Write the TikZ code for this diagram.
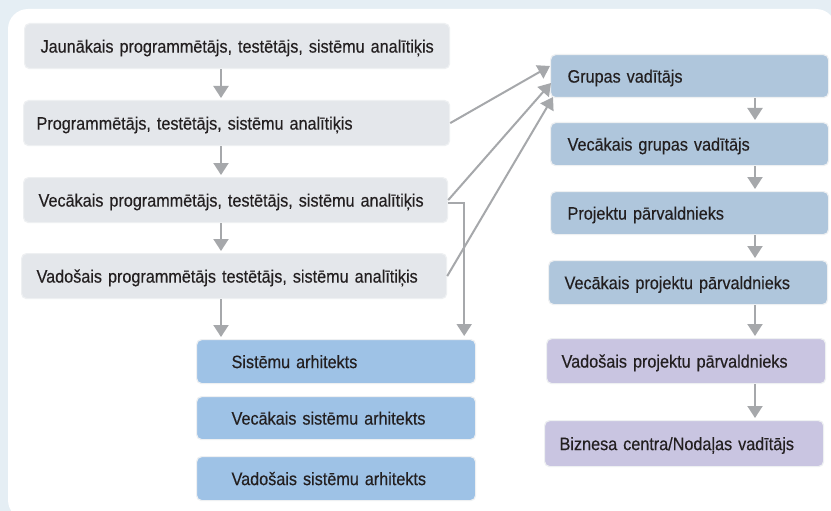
\documentclass[tikz,border=0pt]{standalone}
\usepackage{fontspec}
\setmainfont[FakeStretch=0.9,FakeBold=0.35]{Liberation Sans}
\usetikzlibrary{arrows.meta,calc}
\definecolor{bg}{HTML}{E5EEF4}
\definecolor{grayfill}{HTML}{E4E7EB}
\definecolor{blufill}{HTML}{9EC2E6}
\definecolor{steelfill}{HTML}{AFC6DC}
\definecolor{purfill}{HTML}{C9C5E1}
\definecolor{boxedge}{HTML}{EEF0F2}
\definecolor{arr}{HTML}{A6A8AB}
\definecolor{txt}{HTML}{231F20}
\tikzset{
  bx/.style={rounded corners=5pt, draw=boxedge, line width=1.2pt, anchor=north west,
    align=left, font=\fontsize{18}{20}\selectfont, text=txt, inner ysep=0pt,
    text height=13pt, text depth=0pt},
  gbox/.style={bx, fill=grayfill},
  bbox/.style={bx, fill=blufill},
  sbox/.style={bx, fill=steelfill},
  pbox/.style={bx, fill=purfill},
  conn/.style={draw=arr, line width=2pt, -{Triangle[length=12pt,width=15pt]}},
}
\begin{document}
\begin{tikzpicture}[x=1pt,y=-1pt]
\useasboundingbox (0,0) rectangle (831,511);
\fill[bg] (0,0) rectangle (831,511);
\begin{scope}
\clip (0,0) rectangle (831,511);
\fill[white, rounded corners=20pt] (8,9) rectangle (836,520);
\end{scope}
% left column
\node[gbox, minimum width=425pt, minimum height=45pt, text width=393pt, inner xsep=16pt] (j) at (24,23) {\mbox{Jaunākais programmētājs, testētājs, sistēmu analītiķis}};
\node[gbox, minimum width=426pt, minimum height=45pt, text width=400pt, inner xsep=13pt] (p) at (23,100) {\mbox{Programmētājs, testētājs, sistēmu analītiķis}};
\node[gbox, minimum width=424pt, minimum height=45pt, text width=394pt, inner xsep=15pt] (vp) at (23,177) {\mbox{Vecākais programmētājs, testētājs, sistēmu analītiķis}};
\node[gbox, minimum width=425pt, minimum height=45pt, text width=395pt, inner xsep=15pt] (vd) at (21,253) {\mbox{Vadošais programmētājs testētājs, sistēmu analītiķis}};
% architects
\node[bbox, minimum width=279pt, minimum height=44pt, text width=209pt, inner xsep=35pt] (sa) at (196,339) {Sistēmu arhitekts};
\node[bbox, minimum width=279pt, minimum height=43pt, text width=209pt, inner xsep=35pt] (vsa) at (196,396) {Vecākais sistēmu arhitekts};
\node[bbox, minimum width=279pt, minimum height=44pt, text width=209pt, inner xsep=35pt] (dsa) at (196,456) {Vadošais sistēmu arhitekts};
% right column
\node[sbox, minimum width=278pt, minimum height=43pt, text width=244pt, inner xsep=17pt] (gv) at (550,54) {Grupas vadītājs};
\node[sbox, minimum width=278pt, minimum height=43pt, text width=244pt, inner xsep=17pt] (vgv) at (550,122) {Vecākais grupas vadītājs};
\node[sbox, minimum width=278pt, minimum height=43pt, text width=244pt, inner xsep=17pt] (pp) at (550,191) {Projektu pārvaldnieks};
\node[sbox, minimum width=279pt, minimum height=44pt, text width=247pt, inner xsep=16pt] (vpp) at (548,260) {Vecākais projektu pārvaldnieks};
\node[pbox, minimum width=279pt, minimum height=45pt, text width=249pt, inner xsep=15pt] (dpp) at (546,338) {Vadošais projektu pārvaldnieks};
\node[pbox, minimum width=279pt, minimum height=46pt, text width=249pt, inner xsep=15pt] (bc) at (544,420) {Biznesa centra/Nodaļas vadītājs};
% left vertical arrows
\draw[conn, shorten >=2pt] (j.south -| 221,0) -- (p.north -| 221,0);
\draw[conn, shorten >=2pt] (p.south -| 221,0) -- (vp.north -| 221,0);
\draw[conn, shorten >=2pt] (vp.south -| 221,0) -- (vd.north -| 221,0);
\draw[conn, shorten >=2pt] (vd.south -| 221,0) -- (sa.north -| 221,0);
% right vertical arrows
\draw[conn, shorten >=2pt] (gv.south -| 755,0) -- (vgv.north -| 755,0);
\draw[conn, shorten >=2pt] (vgv.south -| 755,0) -- (pp.north -| 755,0);
\draw[conn, shorten >=2pt] (pp.south -| 755,0) -- (vpp.north -| 755,0);
\draw[conn, shorten >=2pt] (vpp.south -| 755,0) -- (dpp.north -| 755,0);
\draw[conn, shorten >=2pt] (dpp.south -| 755,0) -- (bc.north -| 755,0);
% diagonal arrows
\coordinate (g1) at ($(gv.north west)+(0,12)$);
\coordinate (g2) at ($(gv.north west)+(1,29)$);
\coordinate (g3) at ($(gv.north west)+(3,43)$);
\draw[conn] (p.east) -- (g1);
\draw[conn] (vp.east) -- (g2);
\draw[conn] (vd.east) -- (g3);
% elbow
\coordinate (elb) at ($(sa.north east)+(-12,0)$);
\draw[conn, shorten >=3pt] ($(vp.east)+(0,3)$) -| (elb);
\end{tikzpicture}
\end{document}
